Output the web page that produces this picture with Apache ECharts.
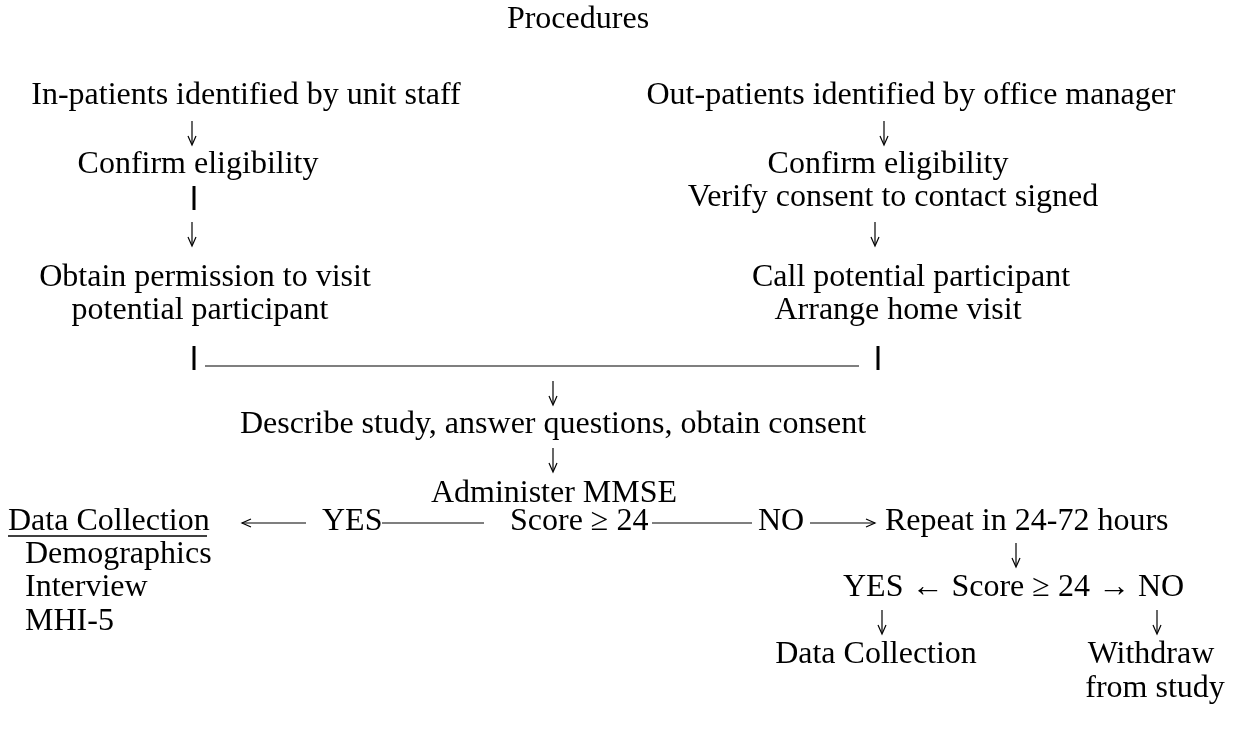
<!DOCTYPE html>
<html><head><meta charset="utf-8">
<script src="https://cdn.jsdelivr.net/npm/echarts@6/dist/echarts.min.js"></script>
<style>html,body{margin:0;padding:0;background:#fff}#c{width:1234px;height:748px}</style>
</head><body><div id="c"></div>
<script>
// Text content of the flowchart
const title = "Procedures";
const leftBranch = ["In-patients identified by unit staff", "Confirm eligibility", "Obtain permission to visit", "potential participant"];
const rightBranch = ["Out-patients identified by office manager", "Confirm eligibility", "Verify consent to contact signed", "Call potential participant", "Arrange home visit"];
const mainSteps = ["Describe study, answer questions, obtain consent", "Administer MMSE"];
const decisionRow = ["YES", "Score ≥ 24", "NO", "Repeat in 24-72 hours"];
const dataCollection = ["Data Collection", "Demographics", "Interview", "MHI-5"];
const secondDecision = ["YES ← Score ≥ 24 → NO"];
const outcomes = ["Data Collection", "Withdraw", "from study"];

// Layout (positions kept separate from content)
const FONT = '32px "Liberation Serif", "Times New Roman", serif';
const rowY = [20, 96, 133, 165, 198, 234, 278, 311, 358, 393, 425, 460, 494, 522, 555, 588, 622, 655, 689];

const els = [];
function txt(s, x, y, align) {
  els.push({type:'text', style:{text:s, x:x, y:y, font:FONT, fill:'#000', textAlign:align||'center', textVerticalAlign:'middle'}});
}
function line(x1,y1,x2,y2,w){
  els.push({type:'line', shape:{x1,y1,x2,y2}, style:{stroke:'#000', lineWidth:w||1.2}});
}
function down(x,y){
  line(x, y-12, x, y+11, 1.2);
  els.push({type:'polyline', shape:{points:[[x-4, y+3],[x, y+12],[x+4, y+3]]}, style:{stroke:'#000', fill:null, lineWidth:1.2}});
}
function hArrow(x1, x2, y, dir){
  line(x1, y, x2, y, 1.2);
  const hx = dir < 0 ? x1 : x2;
  els.push({type:'polyline', shape:{points:[[hx - dir*9, y-4],[hx, y],[hx - dir*9, y+4]]}, style:{stroke:'#000', fill:null, lineWidth:1.2}});
}

txt(title, 578, rowY[0]);
// left branch
txt(leftBranch[0], 246, rowY[1]);
down(192, rowY[2]);
txt(leftBranch[1], 198, rowY[3]);
line(194, rowY[4]-12, 194, rowY[4]+12, 3);
down(192, rowY[5]);
txt(leftBranch[2], 205, rowY[6]);
txt(leftBranch[3], 200, rowY[7]);
// right branch
txt(rightBranch[0], 911, rowY[1]);
down(884, rowY[2]);
txt(rightBranch[1], 888, rowY[3]);
txt(rightBranch[2], 893, rowY[4]);
down(875, rowY[5]);
txt(rightBranch[3], 911, rowY[6]);
txt(rightBranch[4], 898, rowY[7]);
// join
line(194, rowY[8]-12, 194, rowY[8]+12, 3);
line(205, rowY[8]+8, 859, rowY[8]+8, 1.2);
line(878, rowY[8]-12, 878, rowY[8]+12, 3);
down(553, rowY[9]);
txt(mainSteps[0], 553, rowY[10]);
down(553, rowY[11]);
txt(mainSteps[1], 554, rowY[12]);
// decision row
const ry = rowY[13];
txt(dataCollection[0], 8, ry, 'left');
line(8, ry+14, 207, ry+14, 1.5);
hArrow(242, 306, ry+1, -1);
txt(decisionRow[0], 322, ry, 'left');
line(382, ry+1, 484, ry+1, 1.2);
txt(decisionRow[1], 510, ry, 'left');
line(652, ry+1, 752, ry+1, 1.2);
txt(decisionRow[2], 758, ry, 'left');
hArrow(810, 875, ry+1, 1);
txt(decisionRow[3], 885, ry, 'left');
txt(dataCollection[1], 25, rowY[14], 'left');
txt(dataCollection[2], 25, rowY[15], 'left');
txt(dataCollection[3], 25, rowY[16], 'left');
down(1016, rowY[14]);
txt(secondDecision[0], 843, rowY[15], 'left');
down(882, rowY[16]);
down(1157, rowY[16]);
txt(outcomes[0], 876, rowY[17]);
txt(outcomes[1], 1151, rowY[17]);
txt(outcomes[2], 1155, rowY[18]);

const chart = echarts.init(document.getElementById('c'));
chart.setOption({backgroundColor:'#fff', graphic:{elements:els}});
</script></body></html>
